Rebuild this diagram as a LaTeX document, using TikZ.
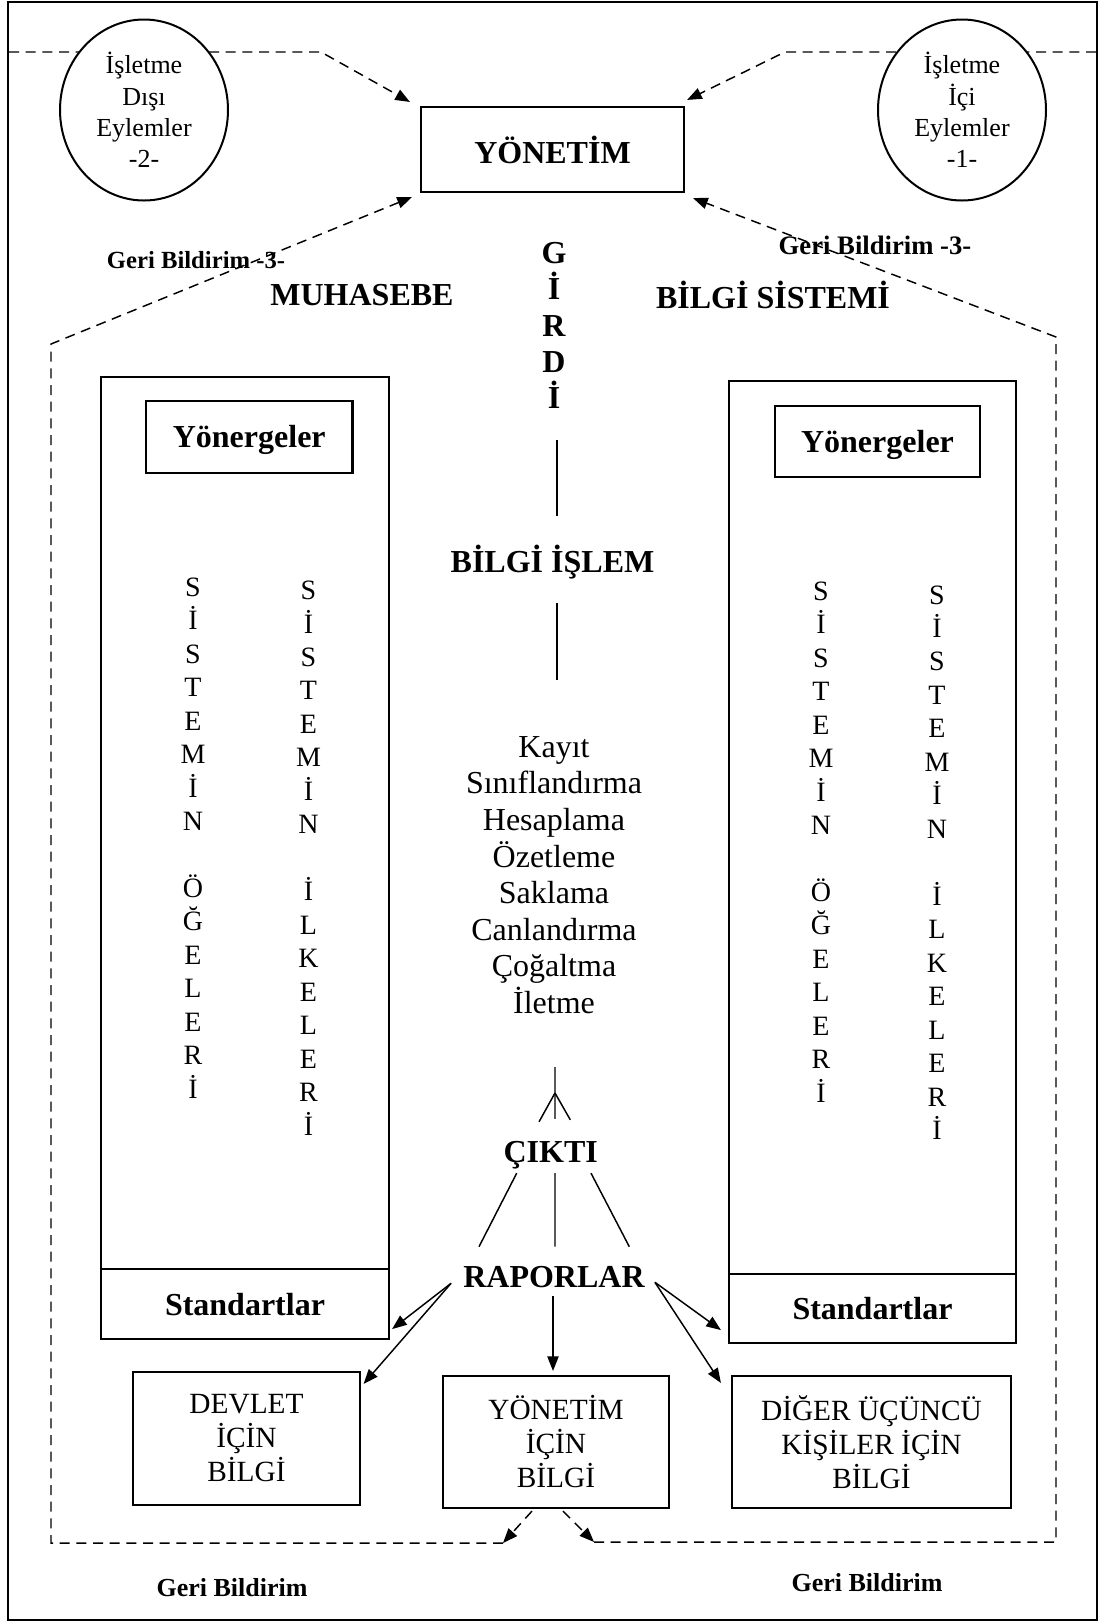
\documentclass[tikz,border=0pt]{standalone}
\usepackage{fontspec}
\setmainfont{Liberation Serif}
\usetikzlibrary{arrows.meta,shapes.geometric}

\newcommand{\fsz}[2]{\fontsize{#1}{#2}\selectfont}

\begin{document}
\begin{tikzpicture}[x=0.75pt,y=-0.75pt,
  frame/.style={draw,line width=1.8pt},
  box/.style={draw,line width=1.6pt,inner sep=0pt,align=center},
  boldbox/.style={box,font=\bfseries\fsz{24}{27},text depth=0pt},
  oval/.style={ellipse,draw,line width=1.5pt,fill=white,inner sep=0pt,align=center,
    minimum width=126pt,minimum height=135.75pt,font=\fsz{19.5}{23.6}},
  head/.style={font=\bfseries\fsz{24}{27.2},inner sep=0pt,align=center},
  note/.style={font=\bfseries\fsz{19.5}{23},inner sep=0pt},
  letters/.style={font=\fsz{21}{25.1},inner sep=0pt,align=center},
  info/.style={box,font=\fsz{22}{25.5}},
  fb/.style={line width=1.1pt,dash pattern=on 7.5pt off 5pt},
  arr/.style={-{Triangle[length=11pt,width=8.5pt]}},
  link/.style={line width=1.1pt}
]
\useasboundingbox (0,0) rectangle (1103,1622);

% outer frame
\draw[frame] (8,2) rectangle (1097,1620);

% headings and feedback labels
\node[head] (muh) at (362,295) {MUHASEBE};
\node[head] (bs) at (773,295) {BİLGİ SİSTEMİ};
\node[note,font=\bfseries\fsz{18.5}{22}] (gb1) at (196,260) {Geri Bildirim -3-};
\node[note,font=\bfseries\fsz{20}{23}] (gb2) at (875,245) {Geri Bildirim -3-};
\node[note] (gb3) at (232,1588) {Geri Bildirim};
\node[note] (gb4) at (867,1583) {Geri Bildirim};

% management box
\node[boldbox,minimum width=197.25pt,minimum height=63.75pt] (yon) at (552.5,149.5) {YÖNETİM};

% left and right panels
\node[box,minimum width=216pt,minimum height=721.5pt] (lpanel) at (245,858) {};
\node[boldbox,minimum width=216pt,minimum height=52.5pt] (lstd) at (245,1304) {Standartlar};
\node[boldbox,minimum width=154.9pt,minimum height=53.8pt] (lyon) at (249.25,436.85) {Yönergeler};
\node[letters] (lc1) at (193,838) {S\\İ\\S\\T\\E\\M\\İ\\N\\~\\Ö\\Ğ\\E\\L\\E\\R\\İ};
\node[letters] (lc2) at (308.5,858) {S\\İ\\S\\T\\E\\M\\İ\\N\\~\\İ\\L\\K\\E\\L\\E\\R\\İ};

\node[box,minimum width=215.25pt,minimum height=721.5pt] (rpanel) at (872.5,862) {};
\node[boldbox,minimum width=215.25pt,minimum height=51.75pt] (rstd) at (872.5,1308.5) {Standartlar};
\node[boldbox,minimum width=153.75pt,minimum height=53.25pt] (ryon) at (877.5,441.2) {Yönergeler};
\node[letters] (rc1) at (821,842) {S\\İ\\S\\T\\E\\M\\İ\\N\\~\\Ö\\Ğ\\E\\L\\E\\R\\İ};
\node[letters] (rc2) at (937,862.5) {S\\İ\\S\\T\\E\\M\\İ\\N\\~\\İ\\L\\K\\E\\L\\E\\R\\İ};

% centre column
\node[head] (girdi) at (554,325.5) {G\\İ\\R\\D\\İ};
\node[head] (islem) at (552.5,561.7) {BİLGİ İŞLEM};
\node[font=\fsz{24}{27.45},align=center,inner sep=0pt] (list) at (554,875)
  {Kayıt\\Sınıflandırma\\Hesaplama\\Özetleme\\Saklama\\Canlandırma\\Çoğaltma\\İletme};
\node[head] (cikti) at (550.7,1155) {ÇIKTI};
\node[head] (raporlar) at (554,1276.7) {RAPORLAR};

\draw[link] ([shift={(3,31)}]girdi.south) -- ([shift={(4.5,-28)}]islem.north);
\draw[link] ([shift={(4.5,24)}]islem.south) -- ([shift={(3,-56)}]list.north);

\coordinate (fork) at (555,1093);
\draw[link] ([shift={(1,53)}]list.south) -- ([shift={(4.3,-22)}]cikti.north);
\draw[link] (fork) -- ([shift={(-11.7,-19)}]cikti.north);
\draw[link] (fork) -- ([shift={(19.6,-21)}]cikti.north);

\draw[link] ([shift={(-34,4)}]cikti.south) -- ([shift={(-75,-19)}]raporlar.north);
\draw[link] ([shift={(4.3,4)}]cikti.south) -- ([shift={(1,-19)}]raporlar.north);
\draw[link] ([shift={(40.3,4)}]cikti.south) -- ([shift={(75.3,-19)}]raporlar.north);

% information boxes
\node[info,minimum width=170.25pt,minimum height=99.75pt] (dev) at (246.5,1438.5) {DEVLET\\İÇİN\\BİLGİ};
\node[info,minimum width=169.5pt,minimum height=99pt] (yib) at (556,1442) {YÖNETİM\\İÇİN\\BİLGİ};
\node[info,minimum width=209.25pt,minimum height=99pt] (dig) at (871.5,1442) {DİĞER ÜÇÜNCÜ\\KİŞİLER İÇİN\\BİLGİ};

% report arrows
\coordinate (rl) at ([shift={(-12,6.6)}]raporlar.west);
\coordinate (rr) at ([shift={(10,5.6)}]raporlar.east);
\draw[link,arr] (rl) -- ([shift={(2,-11)}]lstd.south east);
\draw[link,arr] (rl) -- ([shift={(2.5,13)}]dev.north east);
\draw[link,arr] ([shift={(-1,8)}]raporlar.south) -- ([shift={(-3,-4)}]yib.north);
\draw[link,arr] (rr) -- ([shift={(-7,-14)}]rstd.south west);
\draw[link,arr] (rr) -- ([shift={(-10,8)}]dig.north west);

% dashed flows into management
\coordinate (tl0) at (9,52);
\coordinate (tl1) at (321,52);
\coordinate (tr0) at (1096,52);
\coordinate (tr1) at (785,52);
\draw[fb,arr] (tl0) -- (tl1) -- ([shift={(-10,-4)}]yon.north west);
\draw[fb,arr] (tr0) -- (tr1) -- ([shift={(2,-6)}]yon.north east);

% feedback loop around the system
\coordinate (encLT) at (51,344);
\coordinate (encLB) at (51,1543);
\coordinate (encBL) at (503,1543);
\coordinate (encBR) at (594,1542);
\coordinate (encRB) at (1056,1542);
\coordinate (encRT) at (1056,337);
\draw[fb,arr] (encBL) -- (encLB) -- (encLT) -- ([shift={(-8,4)}]yon.south west);
\draw[fb,arr] (encBR) -- (encRB) -- (encRT) -- ([shift={(8,5)}]yon.south east);
\draw[fb,arr] ([shift={(-24,2)}]yib.south) -- (encBL);
\draw[fb,arr] ([shift={(7,2)}]yib.south) -- (encBR);

% outside and inside activities
\node[oval] (dis) at (144,110) {İşletme\\Dışı\\Eylemler\\-2-};
\node[oval] (ic) at (962,110) {İşletme\\İçi\\Eylemler\\-1-};
\end{tikzpicture}
\end{document}
